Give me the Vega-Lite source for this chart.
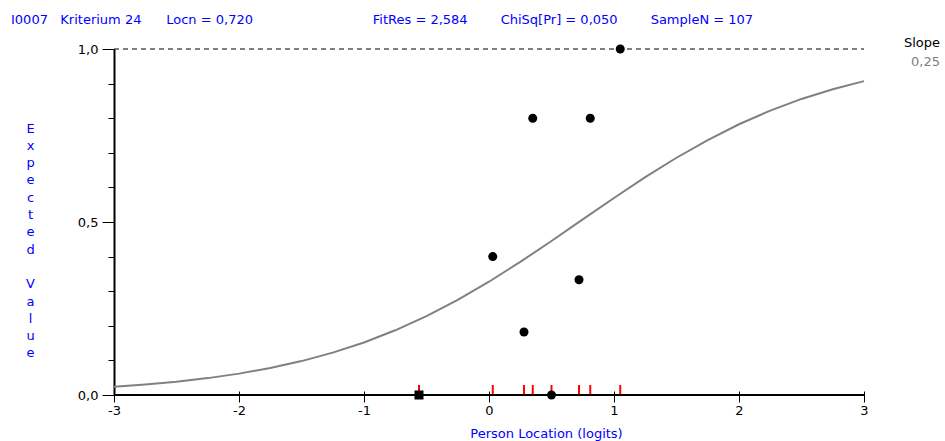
{
  "$schema": "https://vega.github.io/schema/vega-lite/v6.json",
  "width": 750,
  "height": 346,
  "autosize": {"type": "none"},
  "padding": {"left": 114, "top": 49, "right": 81, "bottom": 46},
  "background": "white",
  "config": {"view": {"stroke": null}, "font": "DejaVu Sans"},
  "title": {
    "text": "I0007\u00a0\u00a0\u00a0Kriterium 24\u00a0\u00a0\u00a0\u00a0\u00a0\u00a0Locn = 0,720\u00a0\u00a0\u00a0\u00a0\u00a0\u00a0\u00a0\u00a0\u00a0\u00a0\u00a0\u00a0\u00a0\u00a0\u00a0\u00a0\u00a0\u00a0\u00a0\u00a0\u00a0\u00a0\u00a0\u00a0\u00a0\u00a0\u00a0\u00a0\u00a0FitRes = 2,584\u00a0\u00a0\u00a0\u00a0\u00a0\u00a0\u00a0\u00a0ChiSq[Pr] = 0,050\u00a0\u00a0\u00a0\u00a0\u00a0\u00a0\u00a0\u00a0SampleN = 107",
    "anchor": "start",
    "frame": "group",
    "dx": -103,
    "dy": 25,
    "baseline": "alphabetic",
    "offset": 25,
    "font": "DejaVu Sans",
    "fontSize": 13,
    "fontWeight": "normal",
    "color": "#0000ff"
  },
  "datasets": {
    "curve": [
      {"loc": -3.0, "value": 0.0237},
      {"loc": -2.75, "value": 0.0302},
      {"loc": -2.5, "value": 0.0384},
      {"loc": -2.25, "value": 0.0488},
      {"loc": -2.0, "value": 0.0618},
      {"loc": -1.75, "value": 0.078},
      {"loc": -1.5, "value": 0.098},
      {"loc": -1.25, "value": 0.1224},
      {"loc": -1.0, "value": 0.1519},
      {"loc": -0.75, "value": 0.187},
      {"loc": -0.5, "value": 0.2279},
      {"loc": -0.25, "value": 0.2749},
      {"loc": 0.0, "value": 0.3274},
      {"loc": 0.25, "value": 0.3846},
      {"loc": 0.5, "value": 0.4452},
      {"loc": 0.75, "value": 0.5075},
      {"loc": 1.0, "value": 0.5695},
      {"loc": 1.25, "value": 0.6295},
      {"loc": 1.5, "value": 0.6857},
      {"loc": 1.75, "value": 0.7369},
      {"loc": 2.0, "value": 0.7825},
      {"loc": 2.25, "value": 0.822},
      {"loc": 2.5, "value": 0.8557},
      {"loc": 2.75, "value": 0.8839},
      {"loc": 3.0, "value": 0.9072}
    ],
    "classes": [
      {"loc": -0.56, "value": 0.0},
      {"loc": 0.03, "value": 0.4},
      {"loc": 0.28, "value": 0.182},
      {"loc": 0.35, "value": 0.8},
      {"loc": 0.5, "value": 0.0},
      {"loc": 0.72, "value": 0.333},
      {"loc": 0.81, "value": 0.8},
      {"loc": 1.05, "value": 1.0}
    ]
  },
  "layer": [
    {
      "encoding": {
        "x": {
          "field": "loc",
          "type": "quantitative",
          "scale": {"domain": [-3, 3], "nice": false, "zero": false},
          "axis": {
            "values": [-3, -2, -1, 0, 1, 2, 3],
            "domain": false,
            "offset": -4,
            "tickSize": 11,
            "tickColor": "black",
            "tickWidth": 1,
            "grid": false,
            "labelExpr": "toString(datum.value)",
            "labelFlush": false,
            "labelFont": "DejaVu Sans",
            "labelFontSize": 13,
            "labelColor": "black",
            "labelPadding": 2,
            "title": "Person Location (logits)",
            "titleX": 432,
            "titleY": 46,
            "titleAlign": "center",
            "titleBaseline": "alphabetic",
            "titleColor": "#0000ff",
            "titleFont": "DejaVu Sans",
            "titleFontSize": 13,
            "titleFontWeight": "normal"
          }
        },
        "y": {
          "field": "value",
          "type": "quantitative",
          "scale": {"domain": [0, 1], "nice": false},
          "axis": {
            "values": [0, 0.1, 0.2, 0.3, 0.4, 0.5, 0.6, 0.7, 0.8, 0.9, 1],
            "tickSize": {"condition": {"test": "datum.value == 0 || datum.value == 0.5 || datum.value == 1", "value": 12}, "value": 6},
            "tickColor": "black",
            "tickWidth": 1,
            "domainColor": "black",
            "domainWidth": 2,
            "grid": false,
            "labelExpr": "datum.value == 0 || datum.value == 0.5 || datum.value == 1 ? replace(format(datum.value, '.1f'), '.', ',') : ''",
            "labelFlush": false,
            "labelFont": "DejaVu Sans",
            "labelFontSize": 13,
            "labelColor": "black",
            "labelPadding": 4,
            "title": ["E", "x", "p", "e", "c", "t", "e", "d", "\u200b", "V", "a", "l", "u", "e"],
            "titleAngle": 0,
            "titleX": -84,
            "titleY": 73,
            "titleAlign": "center",
            "titleBaseline": "top",
            "titleColor": "#0000ff",
            "titleFont": "DejaVu Sans",
            "titleFontSize": 13,
            "titleFontWeight": "normal",
            "titleLineHeight": 17.3
          }
        }
      },
      "layer": [
        {
          "data": {"name": "curve"},
          "mark": {"type": "line", "color": "#808080", "strokeWidth": 2}
        },
        {
          "data": {"name": "classes"},
          "mark": {"type": "tick", "orient": "vertical", "color": "#ff0000", "size": 11, "thickness": 2, "yOffset": -4.5, "opacity": 1},
          "encoding": {"y": {"datum": 0, "axis": {"values": [0, 0.1, 0.2, 0.3, 0.4, 0.5, 0.6, 0.7, 0.8, 0.9, 1]}}}
        },
        {
          "data": {"name": "classes"},
          "mark": {"type": "point", "filled": true, "color": "black", "opacity": 1, "size": 81},
          "encoding": {
            "shape": {"condition": {"test": "datum.loc < -0.5", "value": "square"}, "value": "circle"}
          }
        }
      ]
    },
    {
      "data": {"values": [{"line": "top"}]},
      "mark": {"type": "rule", "color": "black", "strokeWidth": 1, "strokeDash": [5, 4]},
      "encoding": {"x": {"datum": -3}, "x2": {"datum": 3}, "y": {"datum": 1, "axis": {"values": [0, 0.1, 0.2, 0.3, 0.4, 0.5, 0.6, 0.7, 0.8, 0.9, 1]}}}
    },
    {
      "data": {"values": [{"line": "base"}]},
      "mark": {"type": "rule", "color": "black", "strokeWidth": 2},
      "encoding": {"x": {"datum": -3}, "x2": {"datum": 3}, "y": {"datum": 0, "axis": {"values": [0, 0.1, 0.2, 0.3, 0.4, 0.5, 0.6, 0.7, 0.8, 0.9, 1]}}}
    },
    {
      "data": {"values": [{"label": "Slope"}]},
      "mark": {"type": "text", "align": "right", "baseline": "middle", "dx": 76, "dy": -6, "font": "DejaVu Sans", "fontSize": 13, "color": "black"},
      "encoding": {"x": {"datum": 3}, "y": {"datum": 1, "axis": {"values": [0, 0.1, 0.2, 0.3, 0.4, 0.5, 0.6, 0.7, 0.8, 0.9, 1]}}, "text": {"field": "label"}}
    },
    {
      "data": {"values": [{"label": "0,25"}]},
      "mark": {"type": "text", "align": "right", "baseline": "middle", "dx": 76, "dy": 13, "font": "DejaVu Sans", "fontSize": 13, "color": "#808080"},
      "encoding": {"x": {"datum": 3}, "y": {"datum": 1, "axis": {"values": [0, 0.1, 0.2, 0.3, 0.4, 0.5, 0.6, 0.7, 0.8, 0.9, 1]}}, "text": {"field": "label"}}
    }
  ]
}
